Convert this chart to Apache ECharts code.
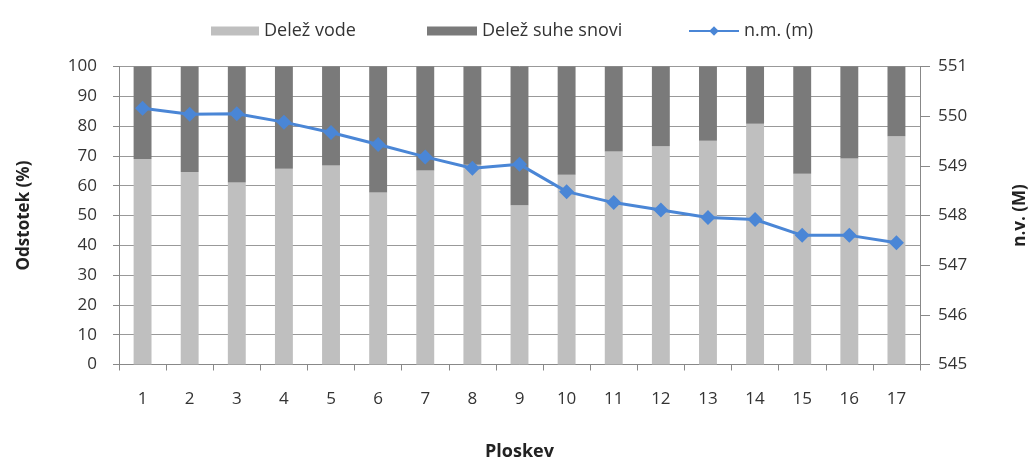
<!DOCTYPE html>
<html><head><meta charset="utf-8">
<script src="https://cdn.jsdelivr.net/npm/echarts@6/dist/echarts.min.js"></script>
<style>html,body{margin:0;padding:0;background:#fff}#c{width:1032px;height:459px}</style>
</head><body><div id="c"></div>
<script>
const categories = ['1','2','3','4','5','6','7','8','9','10','11','12','13','14','15','16','17'];
const water = [69,64.6,61.1,65.7,66.8,57.7,65.1,67,53.4,63.7,71.5,73.2,75.1,80.8,64,69.1,76.6];
const dry = water.map(v => +(100 - v).toFixed(1));
const elevation = [550.16,550.04,550.05,549.88,549.67,549.43,549.18,548.95,549.03,548.48,548.26,548.11,547.96,547.92,547.60,547.60,547.45];

const font = 'Open Sans, Lato, sans-serif';
const legText = {fontSize: 18, color: '#333', fontFamily: font};
const chart = echarts.init(document.getElementById('c'));
chart.setOption({
  animation: false,
  textStyle: {fontFamily: font},
  legend: [
    {data: [{name: 'Delež vode', icon: 'rect'}], left: 206, top: 17, itemWidth: 48, itemHeight: 9, itemGap: 4, textStyle: legText},
    {data: [{name: 'Delež suhe snovi', icon: 'rect'}], left: 422, top: 17, itemWidth: 50, itemHeight: 9, textStyle: legText},
    {data: [{name: 'n.m. (m)'}], left: 683, top: 17, itemWidth: 50, itemHeight: 12, textStyle: legText}
  ],
  grid: {left: 119, right: 112, top: 66.5, bottom: 94.5, outerBoundsMode: 'none', containLabel: false},
  xAxis: {
    type: 'category', data: categories,
    name: 'Ploskev', nameLocation: 'middle', nameGap: 78,
    nameTextStyle: {fontSize: 18, fontWeight: 'bold', color: '#222'},
    axisLine: {lineStyle: {color: '#888'}},
    axisTick: {show: true, lineStyle: {color: '#888'}, length: 6},
    axisLabel: {fontSize: 17, color: '#333', margin: 26}
  },
  yAxis: [
    {
      type: 'value', min: 0, max: 100, interval: 10,
      name: 'Odstotek (%)', nameLocation: 'middle', nameGap: 86, nameRotate: 90,
      nameTextStyle: {fontSize: 17, fontWeight: 'bold', color: '#222'},
      axisLine: {show: true, lineStyle: {color: '#888'}},
      axisTick: {show: true, lineStyle: {color: '#888'}, length: 6},
      axisLabel: {fontSize: 17, color: '#333', margin: 22},
      splitLine: {lineStyle: {color: '#999'}}
    },
    {
      type: 'value', min: 545, max: 551, interval: 1,
      name: 'n.v. (M)', nameLocation: 'middle', nameGap: 92, nameRotate: 90,
      nameTextStyle: {fontSize: 17, fontWeight: 'bold', color: '#222'},
      axisLine: {show: true, lineStyle: {color: '#888'}},
      axisTick: {show: true, lineStyle: {color: '#888'}, length: 10},
      axisLabel: {fontSize: 17, color: '#333', margin: 18},
      splitLine: {show: false}
    }
  ],
  series: [
    {name: 'Delež vode', type: 'bar', stack: 's', data: water, barWidth: '38%',
     itemStyle: {color: '#bfbfbf'}},
    {name: 'Delež suhe snovi', type: 'bar', stack: 's', data: dry, barWidth: '38%',
     itemStyle: {color: '#7a7a7a'}},
    {name: 'n.m. (m)', type: 'line', yAxisIndex: 1, data: elevation,
     symbol: 'diamond', symbolSize: 15,
     lineStyle: {color: '#4a86d6', width: 3},
     itemStyle: {color: '#4a86d6'}}
  ]
});
</script></body></html>
